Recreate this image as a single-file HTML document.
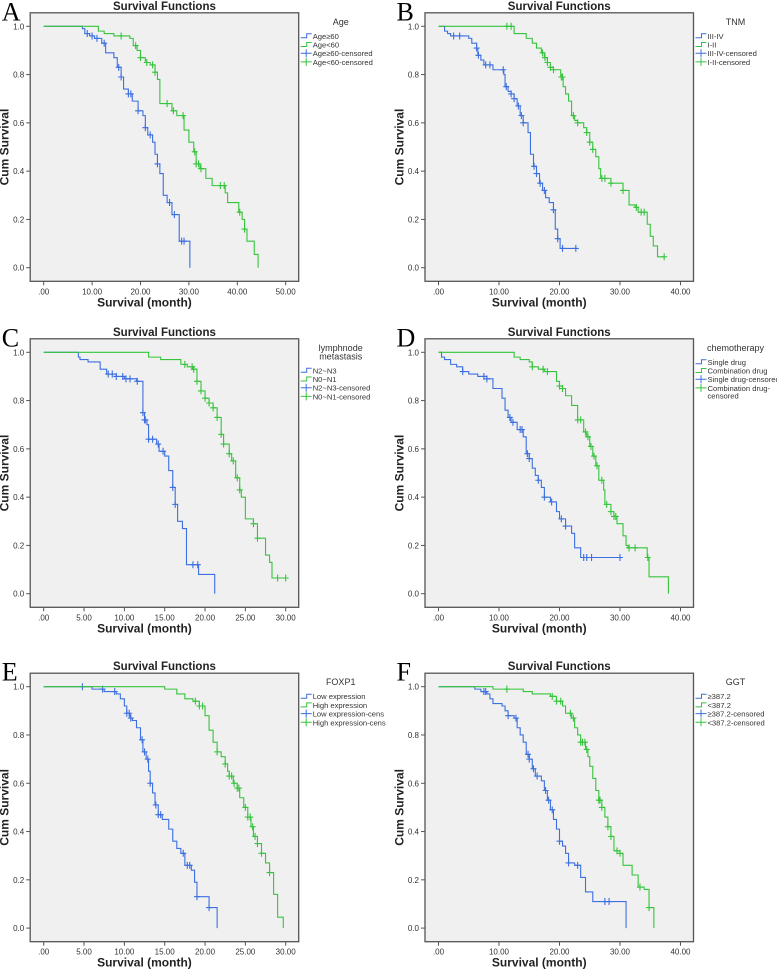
<!DOCTYPE html>
<html><head><meta charset="utf-8"><style>
body{margin:0;background:#fff}
svg{display:block;font-family:"Liberation Sans",sans-serif}
</style></head><body>
<svg id="fig" width="777" height="972" viewBox="0 0 777 972"></svg>
<script>
// ---- data ----
const panelLetters = ["A","B","C","D","E","F"];
const legendTitles = [["Age"],["TNM"],["lymphnode","metastasis"],["chemotherapy"],["FOXP1"],["GGT"]];
const legendLabels = [
 ["Age≥60","Age<60","Age≥60-censored","Age<60-censored"],
 ["III-IV","I-II","III-IV-censored","I-II-censored"],
 ["N2~N3","N0~N1","N2~N3-censored","N0~N1-censored"],
 ["Single drug","Combination drug","Single drug-censored","Combination drug-|censored"],
 ["Low expression","High expression","Low expression-cens","High expression-cens"],
 ["≥387.2","<387.2","≥387.2-censored","<387.2-censored"]];
const xTickLabels = [
 [".00","10.00","20.00","30.00","40.00","50.00"],
 [".00","10.00","20.00","30.00","40.00"],
 [".00","5.00","10.00","15.00","20.00","25.00","30.00"],
 [".00","10.00","20.00","30.00","40.00"],
 [".00","5.00","10.00","15.00","20.00","25.00","30.00"],
 [".00","10.00","20.00","30.00","40.00"]];
const xTickValues = [[0,10,20,30,40,50],[0,10,20,30,40],[0,5,10,15,20,25,30],[0,10,20,30,40],[0,5,10,15,20,25,30],[0,10,20,30,40]];
const yTickValues = [0,0.2,0.4,0.6,0.8,1.0];
const yTickLabels = ["0.0","0.2","0.4","0.6","0.8","1.0"];

const blueSteps = [
 [[8,0.99],[8.5,0.97],[9.5,0.96],[10.5,0.95],[12,0.93],[12.8,0.89],[14.5,0.87],[15.2,0.83],[16,0.79],[16.5,0.74],[17.5,0.72],[18.3,0.69],[19.5,0.65],[20.5,0.63],[21,0.58],[21.5,0.55],[22.5,0.52],[23,0.47],[23.5,0.43],[24,0.39],[24.7,0.30],[25.5,0.27],[26.5,0.22],[28,0.11],[30.2,0]],
 [[1,0.98],[1.5,0.97],[2,0.96],[5,0.95],[5.5,0.93],[6.3,0.91],[6.5,0.88],[7,0.86],[7.5,0.84],[9,0.82],[10.8,0.80],[11,0.75],[11.5,0.73],[12,0.72],[12.5,0.70],[13,0.67],[13.5,0.63],[14,0.60],[14.8,0.56],[15.2,0.47],[15.7,0.42],[16.2,0.39],[16.7,0.35],[17.2,0.32],[17.7,0.29],[18.3,0.27],[19,0.24],[19.3,0.16],[19.7,0.12],[20.1,0.08]],
 [[4.3,0.98],[4.5,0.97],[5.5,0.96],[7,0.93],[7.8,0.91],[9,0.90],[10,0.89],[11.5,0.88],[12.3,0.75],[12.5,0.72],[12.8,0.70],[13,0.64],[14,0.62],[14.3,0.59],[15,0.57],[15.5,0.51],[16,0.44],[16.3,0.37],[16.6,0.30],[17.2,0.27],[17.7,0.12],[19.2,0.08],[21.2,0]],
 [[0.5,0.98],[1,0.97],[2,0.95],[3,0.94],[4,0.92],[5,0.91],[6.5,0.90],[8,0.89],[9,0.85],[10.5,0.81],[11,0.76],[11.5,0.73],[12,0.71],[13,0.68],[14,0.65],[14.5,0.58],[15,0.56],[15.5,0.52],[16,0.49],[16.5,0.47],[17,0.44],[17.5,0.40],[18.5,0.38],[19.5,0.34],[20,0.31],[21,0.28],[22,0.25],[22.5,0.19],[23.5,0.15]],
 [[6,0.99],[7.5,0.98],[9,0.97],[9.5,0.95],[10,0.92],[10.3,0.89],[10.7,0.87],[11,0.86],[11.5,0.83],[12,0.78],[12.3,0.73],[12.7,0.70],[13,0.65],[13.2,0.60],[13.5,0.56],[13.8,0.51],[14.2,0.47],[14.7,0.45],[15.5,0.41],[16,0.36],[16.5,0.33],[17,0.31],[17.5,0.26],[18.3,0.24],[18.7,0.19],[19,0.13],[20.5,0.085],[21.5,0]],
 [[6,0.99],[7,0.98],[8,0.97],[8.5,0.95],[9,0.93],[10.5,0.92],[11,0.90],[11.5,0.88],[12.5,0.87],[13,0.83],[13.5,0.80],[14,0.77],[14.5,0.72],[15,0.70],[15.5,0.66],[16,0.63],[17,0.61],[17.5,0.57],[18,0.53],[18.5,0.49],[19,0.45],[19.5,0.41],[20,0.36],[20.5,0.34],[21,0.31],[21.5,0.27],[22.5,0.26],[23.5,0.21],[24.3,0.15],[25.5,0.11],[31,0]]];
const blueEnd = [30.2,22.7,21.2,30,21.5,31];
const blueCensor = [
 [9,10,11,12.5,15.5,16,17.5,18,19.5,21,22,23.5,26,27,28.5,29],
 [2.5,3.5,6.3,6.6,7.8,8.5,10.7,11.2,12,12.5,13.2,13.7,14,15.8,16.2,16.8,17.5,19,19.7,20.5,22.7],
 [8,8.5,9,9.8,10.2,10.7,11.6,12.3,12.5,12.6,13,13.5,14.2,14.8,16,16.3,18.5,19.1],
 [4,7.5,8,11.8,12.3,13.5,13.8,14.7,15,16.5,17.5,18.7,20.3,21,24,24.5,25.3,30],
 [4.8,7.3,8.8,10.3,10.6,10.8,12.2,12.5,12.9,13.2,13.9,14.2,14.5,17.3,17.8,18.1,19,20.5],
 [7.5,7.8,11.5,12.8,14.8,15,15.7,16.3,17.7,18.2,18.8,20,21.5,23,27.5,28.2]];
const greenSteps = [
 [[11.3,0.98],[12.5,0.97],[14.5,0.96],[17.8,0.95],[18.5,0.92],[19.3,0.90],[20,0.87],[21,0.85],[22,0.84],[23,0.81],[23.5,0.78],[24,0.68],[26.5,0.65],[27.5,0.63],[29,0.57],[30,0.52],[31,0.48],[31.5,0.43],[32.3,0.41],[33.5,0.37],[34.8,0.34],[37.5,0.31],[38,0.27],[40.3,0.23],[41,0.20],[41.5,0.16],[42,0.11],[43.5,0.055],[44.3,0]],
 [[12.5,0.97],[14.5,0.95],[15.5,0.93],[16.2,0.91],[17,0.89],[17.5,0.87],[18,0.85],[18.5,0.83],[19,0.82],[20.2,0.79],[20.6,0.75],[21,0.72],[21.5,0.69],[22,0.63],[22.5,0.61],[23,0.60],[24,0.58],[24.5,0.56],[25,0.52],[25.5,0.49],[26,0.46],[26.5,0.41],[26.8,0.37],[28.5,0.35],[30.5,0.32],[31.5,0.26],[32.5,0.25],[33,0.23],[34.5,0.18],[35,0.13],[35.5,0.09],[36.2,0.045]],
 [[13,0.98],[14.5,0.97],[17,0.95],[17.8,0.94],[18.5,0.93],[19,0.88],[19.5,0.84],[20,0.81],[20.5,0.79],[21,0.77],[21.5,0.73],[22,0.66],[22.3,0.62],[23,0.58],[23.3,0.55],[23.8,0.48],[24.3,0.43],[24.5,0.40],[25,0.31],[26,0.29],[26.5,0.23],[27.5,0.16],[28,0.13],[28.3,0.065]],
 [[12.5,0.98],[13.5,0.97],[15,0.96],[15.5,0.94],[16.5,0.93],[17.5,0.92],[19.5,0.88],[20,0.86],[20.5,0.85],[21,0.82],[22,0.78],[23,0.72],[24,0.67],[24.5,0.65],[25,0.61],[25.5,0.57],[26,0.53],[26.5,0.47],[27.3,0.43],[27.5,0.37],[28.5,0.34],[29,0.32],[29.5,0.29],[30.5,0.24],[31,0.20],[31.3,0.19],[34.5,0.15],[34.8,0.07],[38,0]],
 [[15,0.99],[16.5,0.97],[17.5,0.95],[18.5,0.94],[19.3,0.92],[20,0.88],[20.5,0.82],[21,0.77],[21.5,0.73],[22,0.71],[22.5,0.68],[22.8,0.65],[23,0.63],[23.5,0.60],[24,0.58],[24.3,0.54],[24.8,0.50],[25.3,0.46],[25.7,0.42],[26,0.38],[26.5,0.35],[27,0.31],[27.5,0.27],[28,0.23],[28.5,0.14],[29,0.045],[29.7,0]],
 [[9,0.99],[14,0.98],[15.5,0.97],[18.5,0.96],[19.5,0.94],[20.5,0.92],[21,0.89],[22,0.87],[22.5,0.83],[23,0.80],[23.5,0.77],[24.3,0.74],[24.7,0.71],[25,0.67],[25.5,0.62],[26,0.57],[26.5,0.53],[27,0.50],[27.5,0.46],[28,0.42],[28.5,0.38],[29,0.32],[30,0.31],[30.5,0.26],[32,0.22],[33,0.17],[34,0.16],[34.8,0.085],[35.6,0]]];
const greenEnd = [44.3,37.3,30,38,29.7,35.6];
const greenCensor = [
 [16,19,20,21.3,22.5,23,25.5,26.8,28.8,31.2,31.5,32,32.5,36.5,37.3,40.5,41.5],
 [11.3,12,17.2,17.6,18,18.5,19,20.3,20.5,22.3,23,24.5,25,25.5,27,27.5,28.5,30.5,32.7,33.5,34,37.3],
 [17.5,18.4,18.6,19,19.5,20,20.5,21,21.5,22,22.3,23,23.5,24,24.3,26,26.5,29,30],
 [15.5,17.3,18,20,20.5,23,23.5,24.3,24.7,25.2,25.7,26.2,27,27.8,28.5,29,29.3,31.5,32.5,34.6],
 [18.8,19.3,19.7,21.5,22.5,23,23.3,23.6,24,24.2,25,25.3,25.6,25.9,26.2,26.5,27,28],
 [11.3,18.8,19.5,20.2,21.8,22.3,23.5,23.8,24.2,24.5,26.5,26.7,27,28,28.5,29.5,30,33.3,34.8]];

// ---- layout ----
const NS="http://www.w3.org/2000/svg";
const svg=document.getElementById('fig');
const BLUE="#3c6fe0", GREEN="#36c43c";
const colX=[43.7,438.5], rowY=[26.3,352.3,686.7];
function mk(tag,attrs,parent){const e=document.createElementNS(NS,tag);for(const k in attrs)e.setAttribute(k,attrs[k]);(parent||svg).appendChild(e);return e;}
function txt(s,attrs,parent){const e=mk('text',attrs,parent);e.textContent=s;return e;}
function survAt(steps,t){let s=1;for(const p of steps){if(p[0]<=t)s=p[1];}return s;}

for(let i=0;i<6;i++){
  const x0=colX[i%2], y1=rowY[Math.floor(i/2)], y0=y1+241.4;
  const xv=xTickValues[i], xmax=xv[xv.length-1];
  const X=t=>x0+t/xmax*242, Y=s=>y0-s*241.4;
  const g=mk('g',{});
  
  
  const fl=x0-13.5, fr=x0+255, ft=y1-13.5, fb=y0+13.6;
  const fr_=mk('rect',{x:fl,y:ft,width:fr-fl,height:fb-ft,fill:'#f0f0f0',stroke:'#555','stroke-width':1.3},g);
  
  const L=txt(panelLetters[i],{x:x0-42,y:y1-6,'font-family':'Liberation Serif,serif','font-size':26},g);
  
  const T=txt('Survival Functions',{x:(fl+fr)/2,y:ft-3,'text-anchor':'middle','font-weight':'bold','font-size':11.5,fill:'#222'},g);
  
  yTickValues.forEach((v,k)=>{
    mk('line',{x1:fl-4,x2:fl,y1:Y(v),y2:Y(v),stroke:'#555'},g);
    const t=txt(yTickLabels[k],{x:fl-6,y:Y(v)+3,'text-anchor':'end','font-size':8,fill:'#333'},g);
    
  });
  xv.forEach((v,k)=>{
    mk('line',{x1:X(v),x2:X(v),y1:fb,y2:fb+4,stroke:'#555'},g);
    const t=txt(xTickLabels[i][k],{x:X(v),y:fb+13,'text-anchor':'middle','font-size':8,fill:'#333'},g);
    
  });
  const xt=txt('Survival (month)',{x:(fl+fr)/2-20,y:fb+25,'text-anchor':'middle','font-weight':'bold','font-size':12,fill:'#222'},g);
  
  const yt=txt('Cum Survival',{x:0,y:0,'text-anchor':'middle','font-weight':'bold','font-size':12,fill:'#222',transform:`translate(${x0-35},${(ft+fb)/2}) rotate(-90)`},g);
  
  // curves
  [[blueSteps[i],blueEnd[i],blueCensor[i],BLUE,'blue'],[greenSteps[i],greenEnd[i],greenCensor[i],GREEN,'green']].forEach(([st,end,cen,col,nm])=>{
    let d=`M${X(0)},${Y(1)}`;
    for(const p of st){d+=`H${X(p[0])}V${Y(p[1])}`;}
    d+=`H${X(end)}`;
    const pth=mk('path',{d:d,fill:'none',stroke:col,'stroke-width':1.1},g);
    
    cen.forEach(t=>{
      const cx=X(t), cy=Y(survAt(st,t));
      const c=mk('path',{d:`M${cx-3},${cy}H${cx+3}M${cx},${cy-3.5}V${cy+3.5}`,stroke:col,'stroke-width':1.1},g);
      
    });
  });
  // legend
  const lx=fr+2, lcx=fr+42;
  let ly=ft+12;
  legendTitles[i].forEach((s,k)=>{
    const t=txt(s,{x:lcx,y:ly+k*8.5,'text-anchor':'middle','font-size':9,fill:'#333'},g);
    
  });
  ly+= (legendTitles[i].length-1)*8.5 + 12;
  legendLabels[i].forEach((lab,k)=>{
    const col=k%2===0?BLUE:GREEN;
    const item=mk('g',{},g);
    
    if(k<2){mk('path',{d:`M${lx},${ly+1}H${lx+6}V${ly-3}H${lx+11}`,fill:'none',stroke:col,'stroke-width':1},item);}
    else{mk('path',{d:`M${lx},${ly-1}H${lx+11}M${lx+5.5},${ly-5}V${ly+3}`,stroke:col,'stroke-width':1},item);}
    const parts=lab.split('|');
    parts.forEach((p,j)=>txt(p,{x:lx+12,y:ly+2+j*7.5,'font-size':7.6,fill:'#333'},item));
    ly+=8.7+(parts.length-1)*7.5;
  });
}
</script>
</body></html>
